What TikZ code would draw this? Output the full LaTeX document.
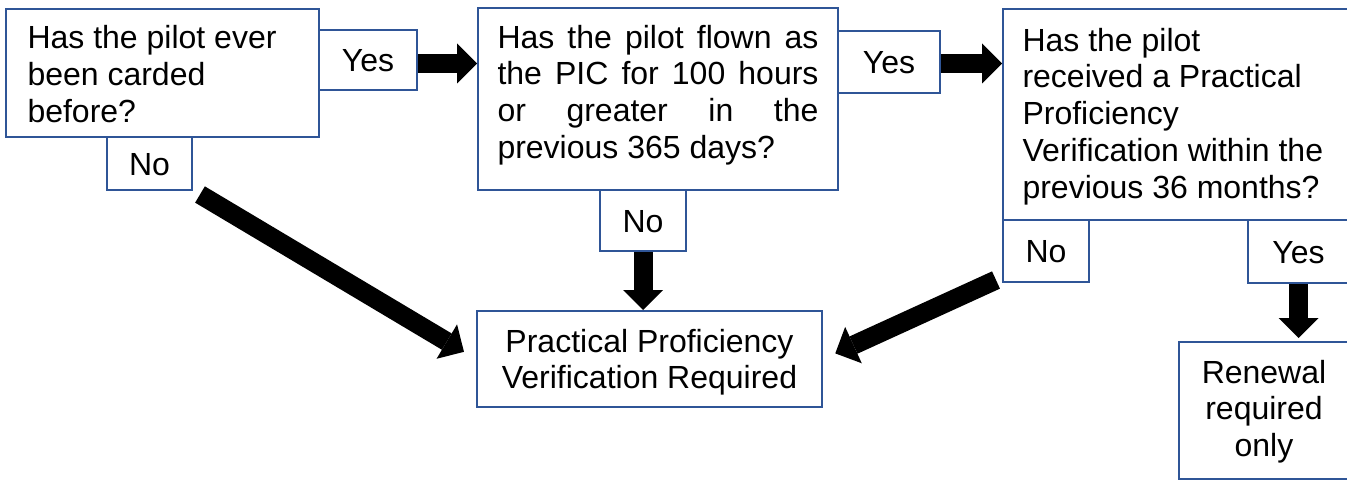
\documentclass[tikz,border=0pt]{standalone}
\usepackage{fontspec}
\setmainfont{Liberation Sans}
\usetikzlibrary{arrows.meta}
\definecolor{bc}{HTML}{2F5597}
\begin{document}
\begin{tikzpicture}[x=1pt,y=-1pt,
  font=\fontsize{32}{36.8}\selectfont,
  qbox/.style={draw=bc, line width=2pt, inner xsep=19.5pt, inner ysep=0pt, anchor=north west},
  tag/.style={draw=bc, line width=2pt, inner sep=0pt, anchor=north west, text height=23pt, text depth=0pt, align=center},
  flow/.style={line width=19pt, -{Triangle[width=40pt,length=20pt,line width=0pt]}}
]
\useasboundingbox (0,0) rectangle (1347,487);

% question boxes
\node[qbox, inner xsep=21.5pt] (q1) at (5,8) {\parbox[c][128pt][t]{270pt}{\rule{0pt}{40pt}Has the pilot ever\\been carded\\before?}};
\node[qbox] (q2) at (477,7) {\parbox[c][182pt][t]{321pt}{\rule{0pt}{40pt}\makebox[321pt][s]{Has the pilot flown as}\\\makebox[321pt][s]{the PIC for 100 hours}\\\makebox[321pt][s]{or greater in the}\\previous 365 days?}};
\node[qbox] (q3) at (1002,8) {\parbox[c][211pt][t]{307pt}{\rule{0pt}{42pt}Has the pilot\\received a Practical\\Proficiency\\Verification within the\\previous 36 months?}};

% result boxes
\node[qbox] (ppv) at (476,310) {\parbox[c][96pt][t]{306pt}{\centering\rule{0pt}{41pt}Practical Proficiency\\Verification Required}};
\node[qbox] (ren) at (1178,341) {\parbox[c][137pt][t]{131pt}{\centering\rule{0pt}{41pt}Renewal\\required\\only}};

% answer tags
\node[tag, minimum width=98pt, minimum height=60pt] (y1) at (318,29) {Yes};
\node[tag, minimum width=102pt, minimum height=62pt] (y2) at (837,30) {Yes};
\node[tag, minimum width=101pt, minimum height=63pt] (y3) at (1247,219) {Yes};
\node[tag, minimum width=85pt, minimum height=53pt] (n1) at (106,136) {No};
\node[tag, minimum width=86pt, minimum height=61pt] (n2) at (599,189) {No};
\node[tag, minimum width=86pt, minimum height=62pt] (n3) at (1002,219) {No};

% arrows
\coordinate (t1) at (200,194.5);
\coordinate (t2) at (996,280);
\draw[flow] ([yshift=-3.5pt]y1.east) -- ([yshift=-3.5pt]y1.east -| q2.west);
\draw[flow] ([yshift=-1.5pt]y2.east) -- ([yshift=-1.5pt]y2.east -| q3.west);
\draw[flow] (n2.south) -- (n2.south |- ppv.north);
\draw[flow, shorten >=3pt] (y3.south) -- (y3.south |- ren.north);
\draw[flow, shorten >=14pt] (t1) -- (ppv.west);
\draw[flow, shorten >=13.5pt] (t2) -- (ppv.east);
\end{tikzpicture}
\end{document}
